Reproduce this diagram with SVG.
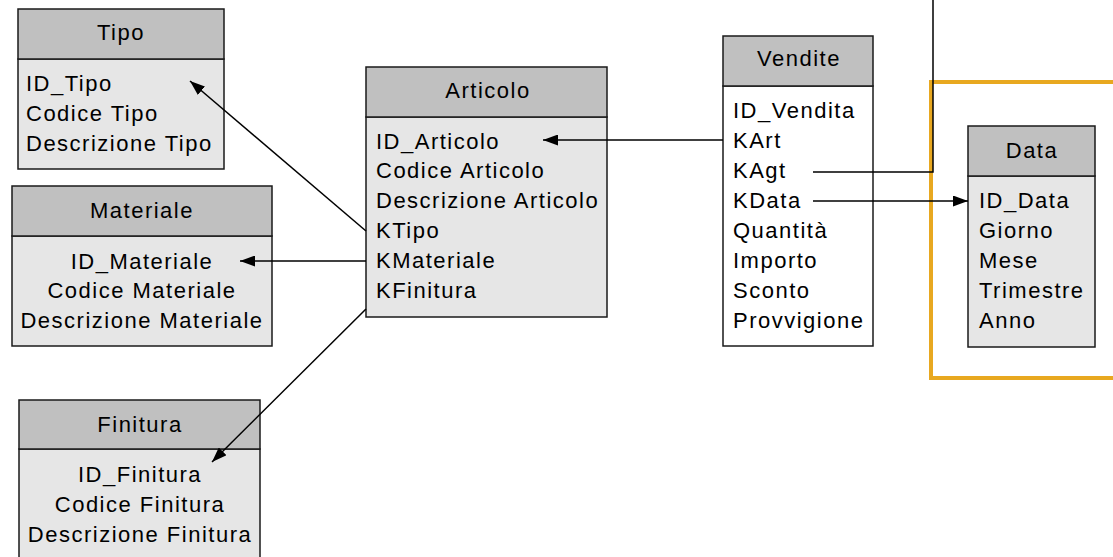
<svg xmlns="http://www.w3.org/2000/svg" width="1113" height="557" viewBox="0 0 1113 557">
<style>
.hd{fill:#c0c0c0;stroke:#1a1a1a;stroke-width:1.5}
.bd{fill:#e6e6e6;stroke:#1a1a1a;stroke-width:1.5}
.bw{fill:#ffffff;stroke:#1a1a1a;stroke-width:1.5}
text{font-family:"Liberation Sans",Arial,sans-serif;font-size:22px;letter-spacing:1.5px;fill:#000}
.c{text-anchor:middle}
.ln{fill:none;stroke:#000;stroke-width:1.5}
</style>
<defs>
<marker id="ah" viewBox="0 0 15 11" refX="15" refY="5.5" markerWidth="15" markerHeight="11" markerUnits="userSpaceOnUse" orient="auto">
<path d="M0,0 L15,5.5 L0,11 z" fill="#000"/>
</marker>
</defs>
<rect x="931" y="82" width="190" height="296" fill="none" stroke="#e8a820" stroke-width="4"/>
<g id="tipo">
<rect class="bd" x="18" y="59" width="206" height="110"/>
<rect class="hd" x="18" y="9" width="206" height="50"/>
<text class="c" x="121" y="40">Tipo</text>
<text x="26" y="91">ID_Tipo</text>
<text x="26" y="121">Codice Tipo</text>
<text x="26" y="151">Descrizione Tipo</text>
</g>
<g id="materiale">
<rect class="bd" x="12" y="236" width="260" height="110"/>
<rect class="hd" x="12" y="186" width="260" height="50"/>
<text class="c" x="142" y="218">Materiale</text>
<text class="c" x="142" y="269">ID_Materiale</text>
<text class="c" x="142" y="298">Codice Materiale</text>
<text class="c" x="142" y="328">Descrizione Materiale</text>
</g>
<g id="finitura">
<rect class="bd" x="19" y="449" width="241" height="120"/>
<rect class="hd" x="19" y="400" width="241" height="49"/>
<text class="c" x="140" y="432">Finitura</text>
<text class="c" x="140" y="482">ID_Finitura</text>
<text class="c" x="140" y="512">Codice Finitura</text>
<text class="c" x="140" y="542">Descrizione Finitura</text>
</g>
<g id="articolo">
<rect class="bd" x="366" y="117" width="241" height="200"/>
<rect class="hd" x="366" y="67" width="241" height="50"/>
<text class="c" x="488" y="98">Articolo</text>
<text x="376" y="149">ID_Articolo</text>
<text x="376" y="178">Codice Articolo</text>
<text x="376" y="208">Descrizione Articolo</text>
<text x="376" y="238">KTipo</text>
<text x="376" y="268">KMateriale</text>
<text x="376" y="298">KFinitura</text>
</g>
<g id="vendite">
<rect class="bw" x="723" y="86" width="150" height="260"/>
<rect class="hd" x="723" y="36" width="150" height="50"/>
<text class="c" x="799" y="66">Vendite</text>
<text x="733" y="118">ID_Vendita</text>
<text x="733" y="148">KArt</text>
<text x="733" y="178">KAgt</text>
<text x="733" y="208">KData</text>
<text x="733" y="238">Quantità</text>
<text x="733" y="268">Importo</text>
<text x="733" y="298">Sconto</text>
<text x="733" y="328">Provvigione</text>
</g>
<g id="data">
<rect class="bd" x="968" y="176" width="127" height="171"/>
<rect class="hd" x="968" y="126" width="127" height="50"/>
<text class="c" x="1032" y="158">Data</text>
<text x="979" y="208">ID_Data</text>
<text x="979" y="238">Giorno</text>
<text x="979" y="268">Mese</text>
<text x="979" y="298">Trimestre</text>
<text x="979" y="328">Anno</text>
</g>
<g id="connectors">
<line class="ln" x1="366" y1="231" x2="190" y2="81" marker-end="url(#ah)"/>
<line class="ln" x1="366" y1="261" x2="240" y2="261" marker-end="url(#ah)"/>
<line class="ln" x1="366" y1="309" x2="212" y2="462" marker-end="url(#ah)"/>
<line class="ln" x1="723" y1="140" x2="543" y2="140" marker-end="url(#ah)"/>
<polyline class="ln" points="813,172 933,172 933,0"/>
<line class="ln" x1="813" y1="201" x2="968" y2="201" marker-end="url(#ah)"/>
</g>
</svg>
